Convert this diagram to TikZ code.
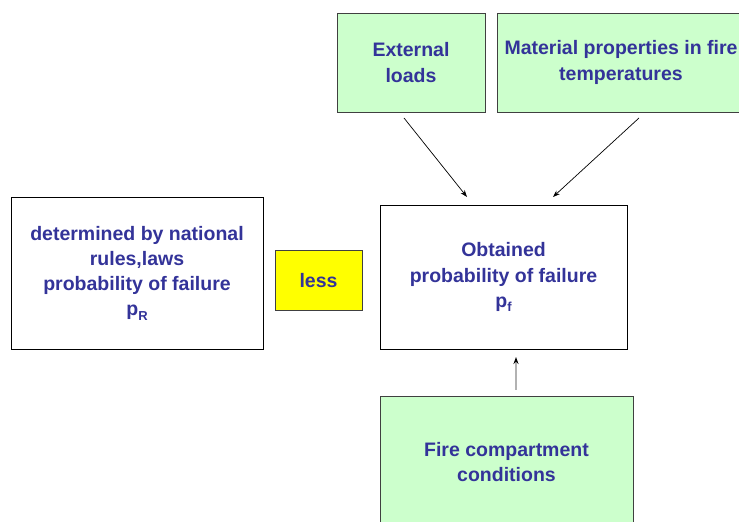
\documentclass[tikz,border=0pt]{standalone}
\usepackage{fontspec}
\setmainfont{Liberation Sans}
\usetikzlibrary{arrows.meta,calc}
\definecolor{txtblue}{HTML}{333399}
\definecolor{boxgreen}{HTML}{CCFFCC}
\definecolor{boxyellow}{HTML}{FFFF00}
\definecolor{bordergray}{HTML}{404040}
\tikzset{
  x=1pt,y=1pt,
  box/.style={draw=black, line width=0.9pt, align=center, inner sep=0pt,
    text=txtblue, font=\fontsize{19.5}{25.3}\selectfont\bfseries},
  greenbox/.style={box, fill=boxgreen, draw=bordergray},
  yellowbox/.style={box, fill=boxyellow, draw=bordergray},
  arr/.style={line width=0.7pt, -{Stealth[length=7pt,width=5pt]}},
  grayarr/.style={line width=1.6pt, draw=gray!60, -{Stealth[length=7pt,width=5pt,black]}}
}
\newcommand{\subsc}[1]{\raisebox{-0.4ex}{\fontsize{13}{13}\selectfont #1}}
\begin{document}
\begin{tikzpicture}
\useasboundingbox (0,0) rectangle (739,522);
\clip (0,0) rectangle (739,522);
\fill[white] (0,0) rectangle (739,522);
\node[greenbox, minimum width=148, minimum height=99] (ext) at (411,459.5) {External\\loads};
\node[greenbox, minimum width=248, minimum height=99] (mat) at (621,459.5) {Material properties in fire\\temperatures};
\node[box, minimum width=252, minimum height=152] (rules) at (137,249) {determined by national\\rules,laws\\probability of failure\\p\subsc{R}};
\node[yellowbox, minimum width=87, minimum height=60] (less) at (318.5,241.5) {less};
\node[box, minimum width=247, minimum height=144] (obt) at (503.5,245) {Obtained\\probability of failure\\p\subsc{f}};
\node[greenbox, minimum width=253, minimum height=132] (fire) at (506.5,60) {Fire compartment\\conditions};
\coordinate (e1) at (404,404);
\coordinate (e2) at (467,325);
\coordinate (m1) at (639,404);
\coordinate (m2) at (553,325);
\coordinate (f1) at (516,132);
\coordinate (f2) at (516,165);
\draw[arr] (e1) -- (e2);
\draw[arr] (m1) -- (m2);
\draw[grayarr] (f1) -- (f2);
\end{tikzpicture}
\end{document}
